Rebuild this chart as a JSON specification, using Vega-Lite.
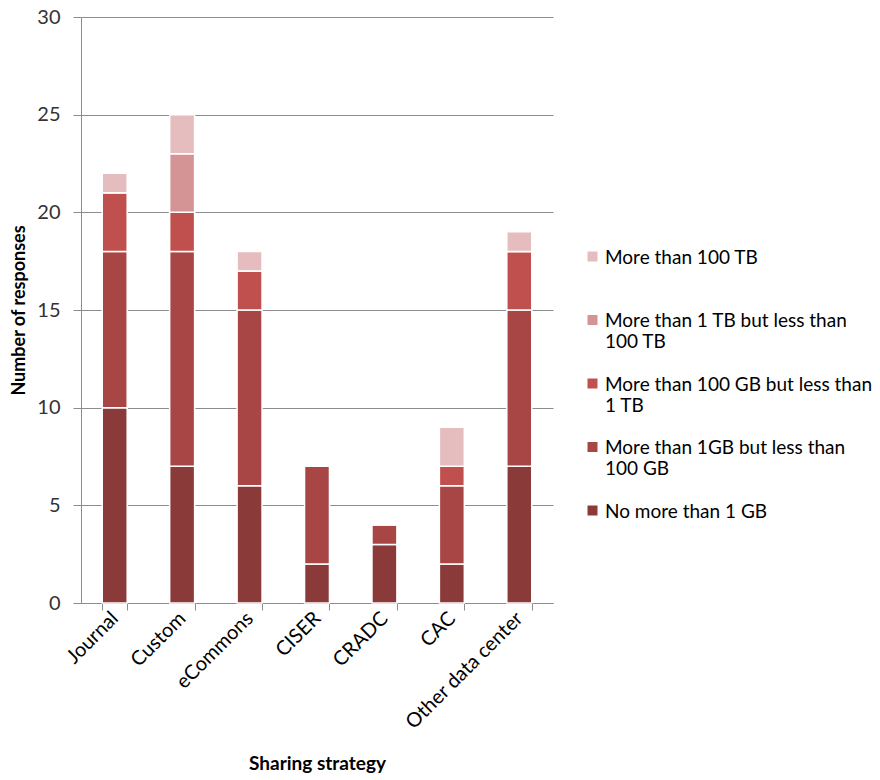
{
  "$schema": "https://vega.github.io/schema/vega-lite/v6.json",
  "autosize": "none",
  "width": 472,
  "height": 586,
  "padding": {"left": 81, "top": 17, "right": 327, "bottom": 177},
  "background": "white",
  "config": {
    "font": "Lato",
    "view": {"stroke": null}
  },
  "data": {
    "values": [
      {"strategy": "Journal", "size": "No more than 1 GB", "level": 1, "count": 10},
      {"strategy": "Journal", "size": "More than 1GB but less than 100 GB", "level": 2, "count": 8},
      {"strategy": "Journal", "size": "More than 100 GB but less than 1 TB", "level": 3, "count": 3},
      {"strategy": "Journal", "size": "More than 1 TB but less than 100 TB", "level": 4, "count": 0},
      {"strategy": "Journal", "size": "More than 100 TB", "level": 5, "count": 1},
      {"strategy": "Custom", "size": "No more than 1 GB", "level": 1, "count": 7},
      {"strategy": "Custom", "size": "More than 1GB but less than 100 GB", "level": 2, "count": 11},
      {"strategy": "Custom", "size": "More than 100 GB but less than 1 TB", "level": 3, "count": 2},
      {"strategy": "Custom", "size": "More than 1 TB but less than 100 TB", "level": 4, "count": 3},
      {"strategy": "Custom", "size": "More than 100 TB", "level": 5, "count": 2},
      {"strategy": "eCommons", "size": "No more than 1 GB", "level": 1, "count": 6},
      {"strategy": "eCommons", "size": "More than 1GB but less than 100 GB", "level": 2, "count": 9},
      {"strategy": "eCommons", "size": "More than 100 GB but less than 1 TB", "level": 3, "count": 2},
      {"strategy": "eCommons", "size": "More than 1 TB but less than 100 TB", "level": 4, "count": 0},
      {"strategy": "eCommons", "size": "More than 100 TB", "level": 5, "count": 1},
      {"strategy": "CISER", "size": "No more than 1 GB", "level": 1, "count": 2},
      {"strategy": "CISER", "size": "More than 1GB but less than 100 GB", "level": 2, "count": 5},
      {"strategy": "CISER", "size": "More than 100 GB but less than 1 TB", "level": 3, "count": 0},
      {"strategy": "CISER", "size": "More than 1 TB but less than 100 TB", "level": 4, "count": 0},
      {"strategy": "CISER", "size": "More than 100 TB", "level": 5, "count": 0},
      {"strategy": "CRADC", "size": "No more than 1 GB", "level": 1, "count": 3},
      {"strategy": "CRADC", "size": "More than 1GB but less than 100 GB", "level": 2, "count": 1},
      {"strategy": "CRADC", "size": "More than 100 GB but less than 1 TB", "level": 3, "count": 0},
      {"strategy": "CRADC", "size": "More than 1 TB but less than 100 TB", "level": 4, "count": 0},
      {"strategy": "CRADC", "size": "More than 100 TB", "level": 5, "count": 0},
      {"strategy": "CAC", "size": "No more than 1 GB", "level": 1, "count": 2},
      {"strategy": "CAC", "size": "More than 1GB but less than 100 GB", "level": 2, "count": 4},
      {"strategy": "CAC", "size": "More than 100 GB but less than 1 TB", "level": 3, "count": 1},
      {"strategy": "CAC", "size": "More than 1 TB but less than 100 TB", "level": 4, "count": 0},
      {"strategy": "CAC", "size": "More than 100 TB", "level": 5, "count": 2},
      {"strategy": "Other data center", "size": "No more than 1 GB", "level": 1, "count": 7},
      {"strategy": "Other data center", "size": "More than 1GB but less than 100 GB", "level": 2, "count": 8},
      {"strategy": "Other data center", "size": "More than 100 GB but less than 1 TB", "level": 3, "count": 3},
      {"strategy": "Other data center", "size": "More than 1 TB but less than 100 TB", "level": 4, "count": 0},
      {"strategy": "Other data center", "size": "More than 100 TB", "level": 5, "count": 1}
    ]
  },
  "mark": {"type": "bar", "stroke": "white", "strokeWidth": 1.5},
  "encoding": {
    "x": {
      "field": "strategy",
      "type": "nominal",
      "sort": ["Journal", "Custom", "eCommons", "CISER", "CRADC", "CAC", "Other data center"],
      "scale": {"paddingInner": 0.63, "paddingOuter": 0.315},
      "axis": {
        "title": "Sharing strategy",
        "titleFontSize": 19,
        "titleFontWeight": "bold",
        "titleColor": "#000000",
        "titlePadding": 22,
        "labelAngle": -45,
        "labelAlign": "right",
        "labelBaseline": "middle",
        "labelFontSize": 20,
        "labelColor": "#000000",
        "labelPadding": 5,
        "tickBand": "extent",
        "tickColor": "#8c8c8c",
        "tickSize": 7,
        "domainColor": "#8c8c8c",
        "grid": false
      }
    },
    "y": {
      "field": "count",
      "type": "quantitative",
      "stack": "zero",
      "scale": {"domain": [0, 30]},
      "axis": {
        "title": "Number of responses",
        "titleFontSize": 18,
        "titleFontWeight": "bold",
        "titleColor": "#000000",
        "titlePadding": 8,
        "values": [0, 5, 10, 15, 20, 25, 30],
        "labelFontSize": 20,
        "labelColor": "#333333",
        "labelPadding": 13,
        "tickColor": "#8c8c8c",
        "tickSize": 8,
        "domainColor": "#8c8c8c",
        "gridColor": "#8c8c8c",
        "gridWidth": 1
      }
    },
    "color": {
      "field": "size",
      "type": "nominal",
      "scale": {
        "domain": ["More than 100 TB", "More than 1 TB but less than 100 TB", "More than 100 GB but less than 1 TB", "More than 1GB but less than 100 GB", "No more than 1 GB"],
        "range": ["#E5BDBF", "#D49496", "#C0504D", "#A84646", "#8B3A3A"]
      },
      "legend": {
        "title": null,
        "orient": "none",
        "legendX": 502,
        "legendY": 237,
        "gridAlign": "all",
        "symbolType": "M-1,-2.4H1V-0.4H-1Z",
        "symbolSize": 100,
        "symbolStrokeWidth": 0,
        "labelFontSize": 19,
        "labelColor": "#000000",
        "labelBaseline": "alphabetic",
        "labelLimit": 300,
        "labelOffset": 3,
        "rowPadding": 22.5,
        "labelExpr": "datum.label == 'More than 1 TB but less than 100 TB' ? ['More than 1 TB but less than', '100 TB'] : datum.label == 'More than 100 GB but less than 1 TB' ? ['More than 100 GB but less than', '1 TB'] : datum.label == 'More than 1GB but less than 100 GB' ? ['More than 1GB but less than', '100 GB'] : datum.label",
        "encode": {
          "labels": {"update": {"lineHeight": {"value": 24}}}
        }
      }
    },
    "order": {"field": "level", "type": "quantitative", "sort": "ascending"}
  }
}
